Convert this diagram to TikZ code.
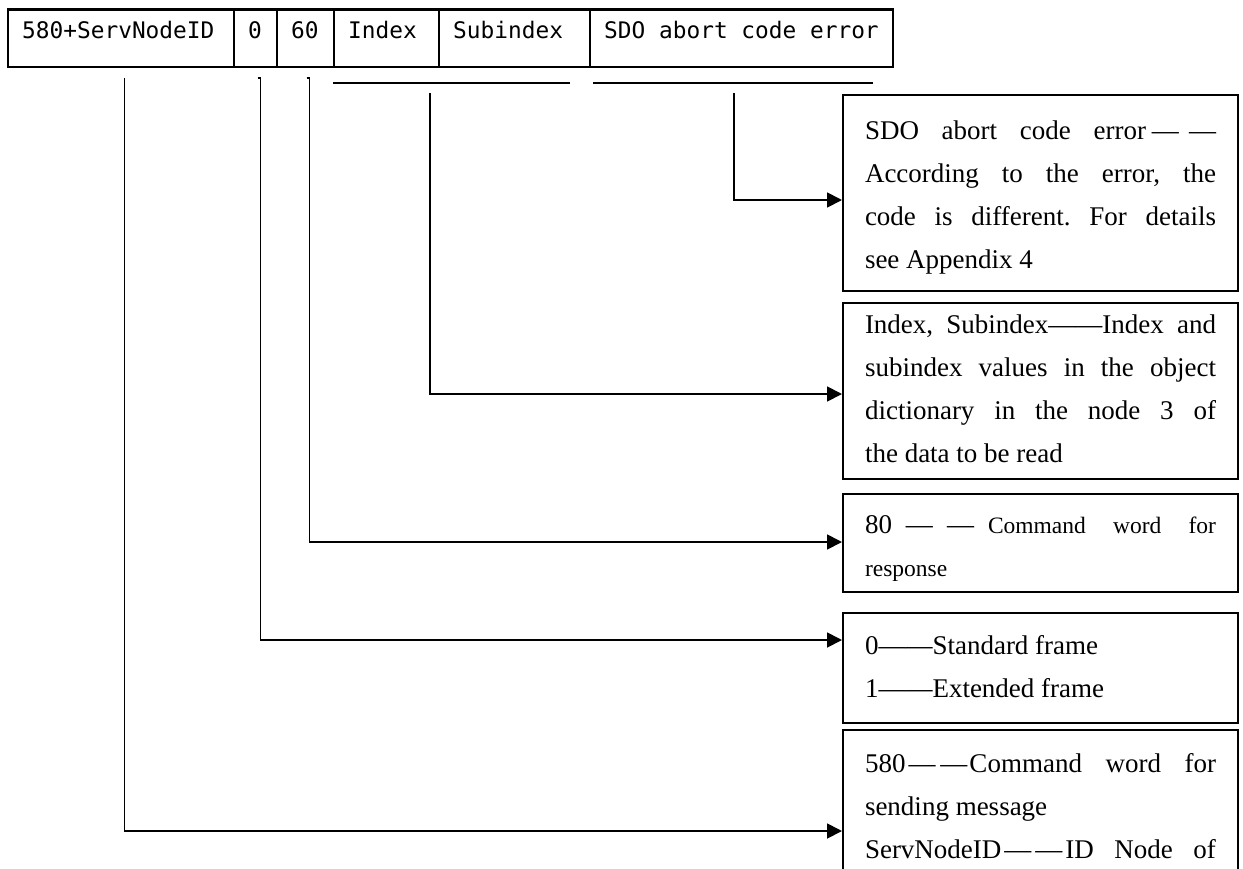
\documentclass[tikz,border=0pt]{standalone}
\usepackage{fontspec}
\setmainfont{Liberation Serif}
\newfontfamily\fieldfont{DejaVu Sans Mono}
\usetikzlibrary{arrows.meta}

% text block helpers for the explanation boxes
\newlength\notewd
\setlength\notewd{351pt}
\newcommand\notestrut{\vrule height 30pt depth 13pt width 0pt\relax}
\newcommand\sline[1]{\hbox to \notewd{\notestrut #1}}
\newcommand\pline[1]{\hbox to \notewd{\notestrut #1\hfil}}
\newcommand\notebody[3]{\vbox to #1{\vskip #2 #3\vfil}}

\begin{document}
\frenchspacing
\begin{tikzpicture}[x=1pt,y=-1pt,
  cell/.style={draw, line width=2.4pt, anchor=north west, inner xsep=14pt,
    inner ysep=0pt, text height=28.5pt, text depth=29pt,
    font=\fieldfont\fontsize{22.8}{26}\selectfont},
  note/.style={draw, line width=2pt, anchor=north west, inner xsep=22pt,
    inner ysep=0pt, font=\fontsize{27}{43}\selectfont},
  wire/.style={line width=1.8pt},
  conn/.style={wire, -{Triangle[length=15pt,width=15pt]}}
]
\useasboundingbox (0,0) rectangle (1243,868);
\clip (0,0) rectangle (1243,868);
\fill[white] (0,0) rectangle (1243,868);

% frame fields
\node[cell] (fid)    at (7,8.3)   {\makebox[198pt][l]{580+ServNodeID}};
\node[cell] (fext)   at (233,8.3) {\makebox[15pt][l]{0}};
\node[cell] (fcmd)   at (276,8.3) {\makebox[29pt][l]{60}};
\node[cell] (fidx)   at (333,8.3) {\makebox[77pt][l]{Index}};
\node[cell] (fsub)   at (438,8.3) {\makebox[123pt][l]{Subindex}};
\node[cell] (fabort) at (589,8.3) {\makebox[275pt][l]{SDO abort code error}};

% explanations
\node[note] (nabort) at (842,93.5) {\notebody{196.5pt}{15pt}{%
  \sline{SDO abort code error\hspace{6pt}—\hspace{10pt}—}%
  \sline{According to the error, the}%
  \sline{code is different. For details}%
  \pline{see Appendix 4}}};

\node[note] (nindex) at (842,302) {\notebody{176pt}{0pt}{%
  \sline{Index, Subindex——Index and}%
  \sline{subindex values in the object}%
  \sline{dictionary in the node 3 of}%
  \pline{the data to be read}}};

\node[note] (ncmd) at (842,493) {\notebody{98pt}{9pt}{%
  \def\notestrut{\vrule height 30pt depth 11pt width 0pt\relax}%
  \sline{80\hspace{14pt}—\hspace{14pt}—\hspace{14pt}{\fontsize{23.5}{41}\selectfont Command word for}}%
  \pline{\fontsize{23.5}{41}\selectfont response}}};

\node[note] (nframe) at (842,612) {\notebody{110pt}{11pt}{%
  \pline{0——Standard frame}%
  \pline{1——Extended frame}}};

\node[note] (nid) at (842,729) {\notebody{160pt}{12pt}{%
  \sline{580\hspace{3pt}—\hspace{5pt}—\hspace{2pt}Command word for}%
  \pline{sending message}%
  \sline{ServNodeID\hspace{3pt}—\hspace{4pt}—\hspace{3pt}ID Node of}}};

% leader starts and grouping bars
\coordinate (tid)    at (124.5,78);
\coordinate (text)   at (260.5,78);
\coordinate (tcmd)   at (309.5,78);
\coordinate (tidx)   at (430,93);
\coordinate (tabort) at (734,93);
\coordinate (ua) at (333,83);
\coordinate (ub) at (570,83);
\coordinate (uc) at (593,83);
\coordinate (ud) at (873,83);

\draw[wire] (ua) -- (ub);
\draw[wire] (uc) -- (ud);

% leaders
\draw[conn] (tabort) |- (nabort.west |- 0,200);
\draw[conn] (tidx) |- (nindex.west |- 0,394);
\draw[conn] ([xshift=-3pt]tcmd) -- (tcmd) |- (ncmd.west |- 0,542);
\draw[conn] ([xshift=-3pt]text) -- (text) |- (nframe.west |- 0,640);
\draw[conn] (tid) |- (nid.west |- 0,831);
\end{tikzpicture}
\end{document}
